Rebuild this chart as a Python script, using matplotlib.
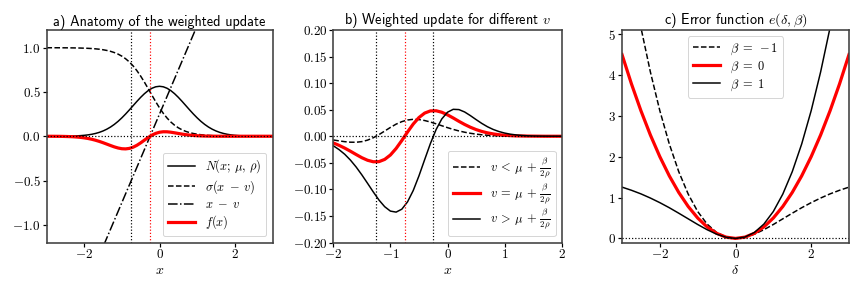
import numpy as np
import matplotlib.pyplot as plt
from matplotlib.ticker import FuncFormatter

plt.rcParams['mathtext.fontset'] = 'cm'

# ---- a) anatomy of the weighted update (values read off the figure)
xa = [-3.0, -2.9, -2.8, -2.7, -2.6, -2.5, -2.4, -2.3, -2.2, -2.1,
      -2.0, -1.9, -1.8, -1.7, -1.6, -1.5, -1.4, -1.3, -1.2, -1.1,
      -1.0, -0.9, -0.8, -0.7, -0.6, -0.5, -0.4, -0.3, -0.2, -0.1,
      0.0, 0.1, 0.2, 0.3, 0.4, 0.5, 0.6, 0.7, 0.8, 0.9,
      1.0, 1.1, 1.2, 1.3, 1.4, 1.5, 1.6, 1.7, 1.8, 1.9,
      2.0, 2.1, 2.2, 2.3, 2.4, 2.5, 2.6, 2.7, 2.8, 2.9, 3.0]
gauss_a = [0.0001, 0.0001, 0.0002, 0.0004, 0.0007, 0.0011, 0.0018, 0.0028, 0.0045, 0.0069,
           0.0103, 0.0153, 0.0221, 0.0314, 0.0436, 0.0595, 0.0795, 0.1041, 0.1337, 0.1682,
           0.2076, 0.2510, 0.2975, 0.3456, 0.3936, 0.4394, 0.4808, 0.5156, 0.5421, 0.5586,
           0.5642, 0.5586, 0.5421, 0.5156, 0.4808, 0.4394, 0.3936, 0.3456, 0.2975, 0.2510,
           0.2076, 0.1682, 0.1337, 0.1041, 0.0795, 0.0595, 0.0436, 0.0314, 0.0221, 0.0153,
           0.0103, 0.0069, 0.0045, 0.0028, 0.0018, 0.0011, 0.0007, 0.0004, 0.0002, 0.0001, 0.0001]
sigm_a = [0.9997, 0.9996, 0.9995, 0.9994, 0.9991, 0.9988, 0.9984, 0.9979, 0.9971, 0.9961,
          0.9948, 0.9930, 0.9905, 0.9873, 0.9829, 0.9770, 0.9692, 0.9589, 0.9453, 0.9276,
          0.9047, 0.8754, 0.8389, 0.7942, 0.7408, 0.6792, 0.6106, 0.5374, 0.4626, 0.3894,
          0.3208, 0.2592, 0.2059, 0.1611, 0.1246, 0.0954, 0.0724, 0.0547, 0.0411, 0.0308,
          0.0230, 0.0171, 0.0127, 0.0095, 0.0070, 0.0052, 0.0039, 0.0029, 0.0021, 0.0016,
          0.0012, 0.0009, 0.0006, 0.0005, 0.0004, 0.0003, 0.0002, 0.0001, 0.0001, 0.0001, 0.0001]
lin_x = [-3.0, 3.0]
lin_y = [-2.75, 3.25]
f_a = [-0.0002, -0.0003, -0.0006, -0.0009, -0.0015, -0.0025, -0.0038, -0.0058, -0.0087, -0.0126,
       -0.0179, -0.0251, -0.0339, -0.0449, -0.0579, -0.0727, -0.0886, -0.1048, -0.1201, -0.1326,
       -0.1409, -0.1428, -0.1373, -0.1235, -0.1021, -0.0746, -0.0440, -0.0139, 0.0125, 0.0326,
       0.0452, 0.0507, 0.0502, 0.0457, 0.0389, 0.0314, 0.0242, 0.0179, 0.0128, 0.0089,
       0.0060, 0.0039, 0.0025, 0.0015, 0.0009, 0.0005, 0.0003, 0.0002, 0.0001, 0.0001,
       0.0, 0.0, 0.0, 0.0, 0.0, 0.0, 0.0, 0.0, 0.0, 0.0, 0.0]
vlines_a = [-0.75, -0.25]
vcolors_a = ['black', 'red']

# ---- b) weighted update for different v
xb = [-2.0, -1.9, -1.8, -1.7, -1.6, -1.5, -1.4, -1.3, -1.2, -1.1,
      -1.0, -0.9, -0.8, -0.7, -0.6, -0.5, -0.4, -0.3, -0.2, -0.1,
      0.0, 0.1, 0.2, 0.3, 0.4, 0.5, 0.6, 0.7, 0.8, 0.9,
      1.0, 1.1, 1.2, 1.3, 1.4, 1.5, 1.6, 1.7, 1.8, 1.9, 2.0]
f_low = [-0.0070, -0.0087, -0.0102, -0.0112, -0.0113, -0.0101, -0.0073, -0.0028, 0.0031, 0.0098,
         0.0166, 0.0228, 0.0275, 0.0306, 0.0319, 0.0314, 0.0296, 0.0268, 0.0234, 0.0198,
         0.0162, 0.0129, 0.0100, 0.0076, 0.0056, 0.0040, 0.0028, 0.0019, 0.0013, 0.0009,
         0.0005, 0.0003, 0.0002, 0.0001, 0.0001, 0.0, 0.0, 0.0, 0.0, 0.0, 0.0]
f_eq = [-0.0126, -0.0171, -0.0223, -0.0282, -0.0344, -0.0404, -0.0452, -0.0480, -0.0478, -0.0436,
        -0.0353, -0.0230, -0.0080, 0.0080, 0.0230, 0.0352, 0.0436, 0.0477, 0.0480, 0.0452,
        0.0403, 0.0344, 0.0281, 0.0222, 0.0170, 0.0126, 0.0091, 0.0064, 0.0044, 0.0029,
        0.0019, 0.0012, 0.0007, 0.0005, 0.0003, 0.0002, 0.0001, 0.0, 0.0, 0.0, 0.0]
f_high = [-0.0179, -0.0251, -0.0339, -0.0449, -0.0579, -0.0727, -0.0886, -0.1048, -0.1201, -0.1326,
          -0.1409, -0.1428, -0.1373, -0.1235, -0.1021, -0.0746, -0.0440, -0.0139, 0.0125, 0.0326,
          0.0452, 0.0507, 0.0502, 0.0457, 0.0389, 0.0314, 0.0242, 0.0179, 0.0128, 0.0089,
          0.0060, 0.0039, 0.0025, 0.0015, 0.0009, 0.0005, 0.0003, 0.0002, 0.0001, 0.0001, 0.0]
vlines_b = [-1.25, -0.75, -0.25]
vcolors_b = ['black', 'red', 'black']

# ---- c) error function e(delta, beta)
dc = [-3.0, -2.75, -2.5, -2.25, -2.0, -1.75, -1.5, -1.25, -1.0, -0.75, -0.5, -0.25,
      0.0, 0.25, 0.5, 0.75, 1.0, 1.25, 1.5, 1.75, 2.0, 2.25, 2.5, 2.75, 3.0]
e_pos = [1.255, 1.178, 1.090, 0.988, 0.875, 0.751, 0.617, 0.479, 0.341, 0.213, 0.104, 0.029,
         0.0, 0.034, 0.146, 0.350, 0.659, 1.084, 1.633, 2.312, 3.125, 4.074, 5.160, 6.384, 7.745]
e_zero = [4.5, 3.781, 3.125, 2.531, 2.0, 1.531, 1.125, 0.781, 0.5, 0.281, 0.125, 0.031,
          0.0, 0.031, 0.125, 0.281, 0.5, 0.781, 1.125, 1.531, 2.0, 2.531, 3.125, 3.781, 4.5]
e_neg = e_pos[::-1]


def mfmt(fmt):
    return FuncFormatter(lambda v, p: '$' + format(v, fmt) + '$')


W, H = 864, 288
fig = plt.figure(figsize=(12, 4), dpi=72)
box = lambda l, r: [l / W, (H - 242.5) / H, (r - l) / W, 212.5 / H]
ax1 = fig.add_axes(box(46.5, 272.5))
ax2 = fig.add_axes(box(333.3, 561.7))
ax3 = fig.add_axes(box(622, 849))

title_kw = dict(fontfamily='cmss10', fontsize=14.2, pad=4)
tick_fs = 13
leg_fs = 12.4
lw_k = 1.5
lw_r = 3.2
lw_d = 1.2

# a)
ax1.plot(xa, gauss_a, 'k-', lw=lw_k, label=r'$N(x;\,\mu,\,\rho)$')
ax1.plot(xa, sigm_a, 'k--', lw=lw_k, label=r'$\sigma(x\;-\;v)$')
ax1.plot(lin_x, lin_y, 'k-.', lw=lw_k, label=r'$x\;-\;v$')
ax1.plot(xa, f_a, color='red', lw=lw_r, label=r'$f(x)$')
ax1.axhline(0, color='k', ls=':', lw=lw_d)
for xv, c in zip(vlines_a, vcolors_a):
    ax1.axvline(xv, color=c, ls=':', lw=lw_d)
ax1.set_xlim(-3, 3)
ax1.set_ylim(-1.2, 1.2)
ax1.set_xticks([-2, 0, 2])
ax1.set_yticks([-1.0, -0.5, 0.0, 0.5, 1.0])
ax1.xaxis.set_major_formatter(mfmt('.0f'))
ax1.yaxis.set_major_formatter(mfmt('.1f'))
ax1.set_xlabel('$x$', fontsize=14, labelpad=1)
ax1.set_title('a) Anatomy of the weighted update', **title_kw)
ax1.legend(loc='lower right', fontsize=leg_fs, labelspacing=0.2, handlelength=2.2)

# b)
ax2.plot(xb, f_low, 'k--', lw=lw_k, label=r'$v\:<\:\mu\,+\,\frac{\beta}{2\rho}$')
ax2.plot(xb, f_eq, color='red', lw=lw_r, label=r'$v\:=\:\mu\,+\,\frac{\beta}{2\rho}$')
ax2.plot(xb, f_high, 'k-', lw=lw_k, label=r'$v\:>\:\mu\,+\,\frac{\beta}{2\rho}$')
ax2.axhline(0, color='k', ls=':', lw=lw_d)
for xv, c in zip(vlines_b, vcolors_b):
    ax2.axvline(xv, color=c, ls=':', lw=lw_d)
ax2.set_xlim(-2, 2)
ax2.set_ylim(-0.2, 0.2)
ax2.set_xticks([-2, -1, 0, 1, 2])
ax2.set_yticks([-0.20, -0.15, -0.10, -0.05, 0.0, 0.05, 0.10, 0.15, 0.20])
ax2.xaxis.set_major_formatter(mfmt('.0f'))
ax2.yaxis.set_major_formatter(mfmt('.2f'))
ax2.set_xlabel('$x$', fontsize=14, labelpad=1)
ax2.set_title('b) Weighted update for different $v$', **title_kw)
ax2.legend(loc='lower right', fontsize=leg_fs, labelspacing=0.1, handlelength=2.2)

# c)
ax3.plot(dc, e_neg, 'k--', lw=lw_k, label=r'$\beta\; =\; -1$')
ax3.plot(dc, e_zero, color='red', lw=lw_r, label=r'$\beta\; =\; 0$')
ax3.plot(dc, e_pos, 'k-', lw=lw_k, label=r'$\beta\; =\; 1$')
ax3.axhline(0, color='k', ls=':', lw=lw_d)
ax3.set_xlim(-3, 3)
ax3.set_ylim(-0.1, 5.1)
ax3.set_xticks([-2, 0, 2])
ax3.set_yticks([0, 1, 2, 3, 4, 5])
ax3.xaxis.set_major_formatter(mfmt('.0f'))
ax3.yaxis.set_major_formatter(mfmt('.0f'))
ax3.set_xlabel(r'$\delta$', fontsize=14, labelpad=1)
ax3.set_title(r'c) Error function $e(\delta, \beta)$', **title_kw)
ax3.legend(loc='upper center', fontsize=leg_fs, labelspacing=0.22, handlelength=2.2)

for ax in (ax1, ax2, ax3):
    ax.tick_params(labelsize=tick_fs, width=1.2, length=4, pad=2)
    for s in ax.spines.values():
        s.set_linewidth(1.6)
        s.set_color('0.25')

fig.savefig('out.png', dpi=72)
